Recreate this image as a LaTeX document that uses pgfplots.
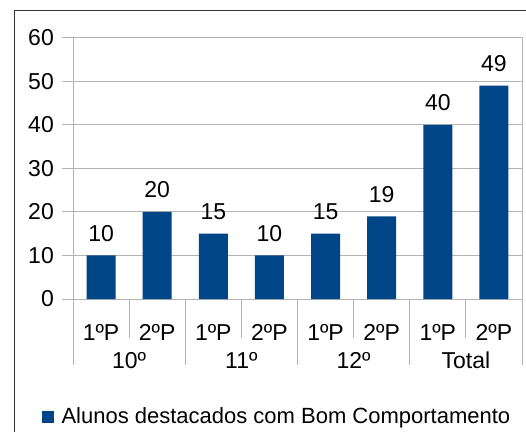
\documentclass[border=0pt]{standalone}
\usepackage{fontspec}
\setmainfont{Liberation Sans}
\usepackage{pgfplots}
\pgfplotsset{compat=1.18}
\definecolor{barblue}{HTML}{004586}
\definecolor{gridgray}{HTML}{B3B3B3}
\definecolor{framegray}{HTML}{333333}

\begin{document}
\begin{tikzpicture}
  \path[use as bounding box] (0bp,0bp) rectangle (526bp,432bp);
  % chart border (top and left edges visible)
  \draw[framegray, line width=1bp] (14bp,0bp) -- (14bp,421bp) -- (526bp,421bp);
  \begin{axis}[
      at={(73bp,133bp)}, anchor=south west,
      scale only axis,
      width=449bp, height=261.3bp,
      xmin=-0.5, xmax=7.5,
      ymin=0, ymax=60,
      ytick={0,10,...,60},
      xtick=data,
      xticklabels={1ºP,2ºP,1ºP,2ºP,1ºP,2ºP,1ºP,2ºP},
      ymajorgrids,
      grid style={gridgray, line width=1bp},
      axis line style={gridgray, line width=1bp},
      tick align=outside,
      major tick length=11bp,
      ytick pos=left,
      xtick pos=bottom,
      ytick style={gridgray, line width=1bp},
      xtick style={draw=none},
      /pgf/number format/assume math mode=true,
      tick label style={font=\fontsize{23bp}{27bp}\selectfont, text=black},
      yticklabel style={inner sep=0pt, xshift=-8bp},
      xticklabel style={anchor=base, inner sep=0pt, yshift=-30bp},
      ybar, bar width=29bp, bar shift=0pt,
      nodes near coords,
      every node near coord/.append style={font=\fontsize{23bp}{27bp}\selectfont,
        text=black, anchor=south, inner sep=0pt, yshift=13.5bp},
      clip=false,
      legend style={draw=none, fill=none, inner sep=0pt,
        at={(-0.0697,-0.4505)}, anchor=west,
        font=\fontsize{22bp}{26bp}\selectfont,
        nodes={inner sep=0pt}, column sep=8bp},
      legend image code/.code={\fill[barblue] (0bp,-5.8bp) rectangle (11.6bp,5.8bp);},
    ]
    \addplot[fill=barblue, draw=none] coordinates {
      (0,10) (1,20) (2,15) (3,10) (4,15) (5,19) (6,40) (7,49)
    };
    \legend{Alunos destacados com Bom Comportamento}
    % category separators
    \pgfplotsinvokeforeach{-0.5,1.5,3.5,5.5,7.5}{
      \draw[gridgray, line width=1bp] (axis cs:#1,0) -- ([yshift=-66bp]axis cs:#1,0);
    }
    \pgfplotsinvokeforeach{0.5,2.5,4.5,6.5}{
      \draw[gridgray, line width=1bp] (axis cs:#1,0) -- ([yshift=-39bp]axis cs:#1,0);
    }
    % group labels
    \node[anchor=base, inner sep=0pt, font=\fontsize{23bp}{27bp}\selectfont]
      at (axis cs:0.5,0) [yshift=-69bp] {10º};
    \node[anchor=base, inner sep=0pt, font=\fontsize{23bp}{27bp}\selectfont]
      at (axis cs:2.5,0) [yshift=-69bp] {11º};
    \node[anchor=base, inner sep=0pt, font=\fontsize{23bp}{27bp}\selectfont]
      at (axis cs:4.5,0) [yshift=-69bp] {12º};
    \node[anchor=base, inner sep=0pt, font=\fontsize{23bp}{27bp}\selectfont]
      at (axis cs:6.5,0) [yshift=-69bp] {Total};
  \end{axis}
\end{tikzpicture}
\end{document}
